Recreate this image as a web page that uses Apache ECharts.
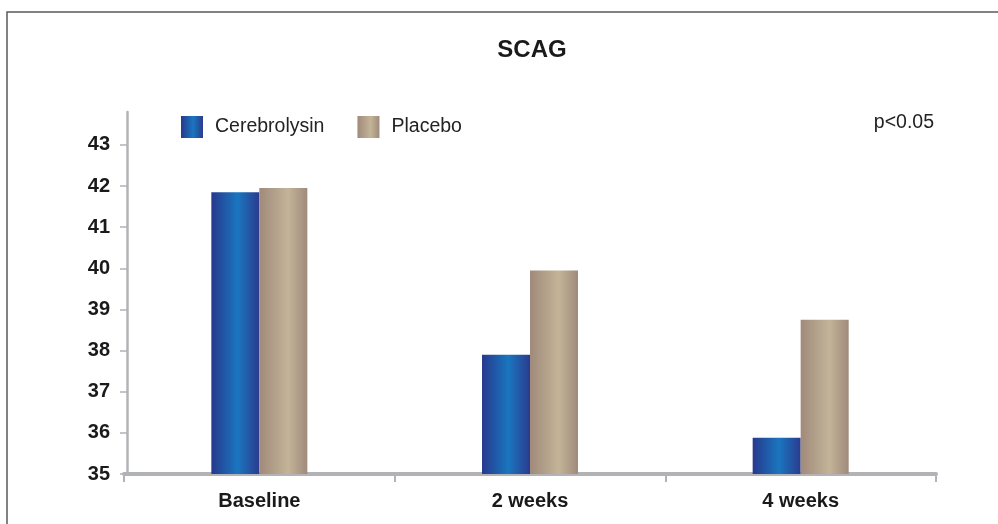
<!DOCTYPE html>
<html>
<head>
<meta charset="utf-8">
<script src="https://cdn.jsdelivr.net/npm/echarts@6/dist/echarts.min.js"></script>
<style>
html,body{margin:0;padding:0;background:#fff;}
#chart{width:998px;height:524px;}
</style>
</head>
<body>
<div id="chart"></div>
<script>
const categories = ['Baseline', '2 weeks', '4 weeks'];
const cerebrolysin = [41.85, 37.9, 35.88];
const placebo = [41.95, 39.95, 38.75];
const yTicks = [35, 36, 37, 38, 39, 40, 41, 42, 43];
const titleText = 'SCAG';
const pText = 'p<0.05';

const font = '"Liberation Sans", Arial, Helvetica, sans-serif';
const axisGray = '#b2b3b7';

const blueGrad = {
  type: 'linear', x: 0, y: 0, x2: 1, y2: 0,
  colorStops: [
    {offset: 0, color: '#27398d'},
    {offset: 0.55, color: '#1a76bf'},
    {offset: 1, color: '#2b3b8e'}
  ]
};
const tanGrad = {
  type: 'linear', x: 0, y: 0, x2: 1, y2: 0,
  colorStops: [
    {offset: 0, color: '#a08a7b'},
    {offset: 0.6, color: '#c3b498'},
    {offset: 1, color: '#a08a7b'}
  ]
};

const chart = echarts.init(document.getElementById('chart'), null, {renderer: 'canvas'});
chart.setOption({
  animation: false,
  backgroundColor: '#ffffff',
  title: {
    text: titleText,
    left: 527, top: 33, textAlign: 'center',
    textStyle: {fontFamily: font, fontWeight: 'bold', fontSize: 24, color: '#1a1a1a'}
  },
  legend: {
    left: 176, top: 111,
    itemWidth: 22, itemHeight: 22, itemGap: 33,
    icon: 'rect',
    textStyle: {fontFamily: font, fontSize: 19.5, color: '#222', padding: [0, 0, 0, 7]},
    data: ['Cerebrolysin', 'Placebo']
  },
  grid: {left: 124, right: 62, top: 112, bottom: 50, containLabel: false},
  xAxis: {
    type: 'category',
    data: categories,
    boundaryGap: true,
    axisLine: {lineStyle: {color: axisGray, width: 4}},
    axisTick: {show: true, length: 8, lineStyle: {color: axisGray, width: 2}},
    axisLabel: {margin: 17, fontFamily: font, fontWeight: 'bold', fontSize: 20, color: '#1a1a1a'}
  },
  yAxis: {
    type: 'value',
    min: 35, max: 43.8,
    offset: -3,
    splitLine: {show: false},
    axisLine: {show: true, lineStyle: {color: axisGray, width: 2.5}},
    axisTick: {show: true, length: 7, customValues: yTicks, lineStyle: {color: axisGray, width: 1.5}},
    axisLabel: {customValues: yTicks, margin: 17, fontFamily: font, fontWeight: 'bold', fontSize: 20, color: '#1a1a1a'}
  },
  series: [
    {name: 'Cerebrolysin', type: 'bar', data: cerebrolysin, barWidth: 48, barGap: '0%', itemStyle: {color: blueGrad}},
    {name: 'Placebo', type: 'bar', data: placebo, barWidth: 48, barGap: '0%', itemStyle: {color: tanGrad}}
  ],
  graphic: [
    {type: 'rect', shape: {x: 7, y: 12, width: 1100, height: 700}, style: {fill: 'none', stroke: '#5a5a5a', lineWidth: 1.5}, z: -1},
    {type: 'text', x: 934, y: 123, style: {text: pText, textAlign: 'right', textVerticalAlign: 'middle', fontFamily: font, fontSize: 19.5, fill: '#222'}}
  ]
});
</script>
</body>
</html>
